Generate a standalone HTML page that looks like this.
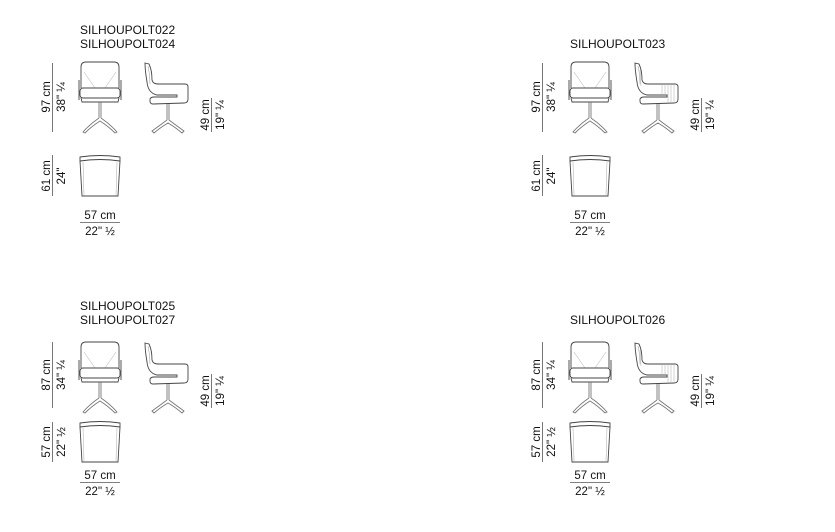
<!DOCTYPE html>
<html><head><meta charset="utf-8"><style>
html,body{margin:0;padding:0;background:#fff;}
svg{display:block;font-family:"Liberation Sans",Arial,sans-serif;}
text{fill:#111;}
</style></head><body>
<svg width="835" height="532" viewBox="0 0 835 532" xmlns="http://www.w3.org/2000/svg">
<defs>
<g id="front" fill="none" stroke="#444" stroke-width="0.9">
  <path d="M81,88 L81,67 Q81,62 86,62 L114,62 Q119,62 119,67 L119,88"/>
  <path d="M84,72 L95,88 M116,72 L105,88" stroke="#aaa" stroke-width="0.5"/>
  <path d="M79,80 L79,100 M121,80 L121,100"/>
  <rect x="80" y="88" width="40" height="10" rx="3"/>
  <path d="M81,98 L82,102 L118,102 L119,98"/>
  <path d="M99,102 L99,118 M101,102 L101,118" stroke="#777"/>
  <path d="M99,118 Q90,124 83,132 L85,133 Q92,126 100,121 Q108,126 115,133 L117,132 Q110,124 101,118" stroke="#777"/>
</g>
<g id="side" fill="none" stroke="#444" stroke-width="0.9">
  <path d="M145,63 L149,64 Q152,70 152,80 Q153,84 158,84 L185,84 Q188,84 188,87 L188,99 Q188,103 184,103 L153,104 Q150,104 150,101 L150,99 Q151,97 154,97 L177,97 L177,95 L157,95 Q148,93 147,82 Q145,70 145,63 Z"/>
  <path d="M148,66 Q150,74 150,84" stroke="#999" stroke-width="0.5"/>
  <path d="M167,104 L167,120 M169,104 L169,120" stroke="#777"/>
  <path d="M167,120 Q159,126 152,131 L154,133 Q161,127 168,123 Q175,127 182,133 L184,131 Q177,126 169,120" stroke="#777"/>
</g>
<g id="side2" fill="none" stroke="#444" stroke-width="0.9">
  <use href="#side"/>
  <path d="M172,85 L172,94 M175,85 L175,94 M178,85 L178,102 M181,85 L181,102 M184,85 L184,102 M150,70 L151,86" stroke="#aaa" stroke-width="0.5"/>
</g>
<g id="top" fill="none" stroke="#444" stroke-width="0.9">
  <path d="M80,157 Q100,154 120,157 L120,161 Q100,158 80,161 Z"/>
  <path d="M80,161 L82,196 L118,196 L120,161"/>
  <path d="M83,162 L84,195 M117,162 L116,195" stroke="#aaa" stroke-width="0.5"/>
</g>
</defs>

<g font-size="11.5">
<!-- Block 1 -->
<g>
<text x="80" y="34" font-size="12">SILHOUPOLT022</text>
<text x="80" y="48" font-size="12">SILHOUPOLT024</text>
<use href="#front"/><use href="#side"/><use href="#top"/>
<line x1="52.5" y1="63" x2="52.5" y2="132" stroke="#555" stroke-width="0.8"/>
<text transform="translate(50,97) rotate(-90)" text-anchor="middle">97 cm</text>
<text transform="translate(65,97) rotate(-90)" text-anchor="middle">38" ¼</text>
<line x1="211.5" y1="98" x2="211.5" y2="132" stroke="#555" stroke-width="0.8"/>
<text transform="translate(209,115) rotate(-90)" text-anchor="middle">49 cm</text>
<text transform="translate(224,115) rotate(-90)" text-anchor="middle">19" ¼</text>
<line x1="52.5" y1="155" x2="52.5" y2="196" stroke="#555" stroke-width="0.8"/>
<text transform="translate(50,176) rotate(-90)" text-anchor="middle">61 cm</text>
<text transform="translate(65,176) rotate(-90)" text-anchor="middle">24"</text>
<line x1="80" y1="222.5" x2="120" y2="222.5" stroke="#555" stroke-width="0.8"/>
<text x="100" y="219" text-anchor="middle">57 cm</text>
<text x="100" y="235" text-anchor="middle">22" ½</text>
</g>

<!-- Block 2 -->
<g transform="translate(490,0)">
<text x="80" y="48" font-size="12">SILHOUPOLT023</text>
<use href="#front"/><use href="#side2"/><use href="#top"/>
<line x1="52.5" y1="63" x2="52.5" y2="132" stroke="#555" stroke-width="0.8"/>
<text transform="translate(50,97) rotate(-90)" text-anchor="middle">97 cm</text>
<text transform="translate(65,97) rotate(-90)" text-anchor="middle">38" ¼</text>
<line x1="211.5" y1="98" x2="211.5" y2="132" stroke="#555" stroke-width="0.8"/>
<text transform="translate(209,115) rotate(-90)" text-anchor="middle">49 cm</text>
<text transform="translate(224,115) rotate(-90)" text-anchor="middle">19" ¼</text>
<line x1="52.5" y1="155" x2="52.5" y2="196" stroke="#555" stroke-width="0.8"/>
<text transform="translate(50,176) rotate(-90)" text-anchor="middle">61 cm</text>
<text transform="translate(65,176) rotate(-90)" text-anchor="middle">24"</text>
<line x1="80" y1="222.5" x2="120" y2="222.5" stroke="#555" stroke-width="0.8"/>
<text x="100" y="219" text-anchor="middle">57 cm</text>
<text x="100" y="235" text-anchor="middle">22" ½</text>
</g>

<!-- Block 3 -->
<g transform="translate(0,276)">
<text x="80" y="34" font-size="12">SILHOUPOLT025</text>
<text x="80" y="48" font-size="12">SILHOUPOLT027</text>
<use href="#front" transform="translate(0,4)"/><use href="#side" transform="translate(0,4)"/><use href="#top" transform="translate(0,-10)"/>
<line x1="52.5" y1="66" x2="52.5" y2="132" stroke="#555" stroke-width="0.8"/>
<text transform="translate(50,99) rotate(-90)" text-anchor="middle">87 cm</text>
<text transform="translate(65,99) rotate(-90)" text-anchor="middle">34" ¼</text>
<line x1="211.5" y1="98" x2="211.5" y2="132" stroke="#555" stroke-width="0.8"/>
<text transform="translate(209,115) rotate(-90)" text-anchor="middle">49 cm</text>
<text transform="translate(224,115) rotate(-90)" text-anchor="middle">19" ¼</text>
<line x1="52.5" y1="146" x2="52.5" y2="186" stroke="#555" stroke-width="0.8"/>
<text transform="translate(50,166) rotate(-90)" text-anchor="middle">57 cm</text>
<text transform="translate(65,166) rotate(-90)" text-anchor="middle">22" ½</text>
<line x1="80" y1="206.5" x2="120" y2="206.5" stroke="#555" stroke-width="0.8"/>
<text x="100" y="203" text-anchor="middle">57 cm</text>
<text x="100" y="219" text-anchor="middle">22" ½</text>
</g>

<!-- Block 4 -->
<g transform="translate(490,276)">
<text x="80" y="48" font-size="12">SILHOUPOLT026</text>
<use href="#front" transform="translate(0,4)"/><use href="#side2" transform="translate(0,4)"/><use href="#top" transform="translate(0,-10)"/>
<line x1="52.5" y1="66" x2="52.5" y2="132" stroke="#555" stroke-width="0.8"/>
<text transform="translate(50,99) rotate(-90)" text-anchor="middle">87 cm</text>
<text transform="translate(65,99) rotate(-90)" text-anchor="middle">34" ¼</text>
<line x1="211.5" y1="98" x2="211.5" y2="132" stroke="#555" stroke-width="0.8"/>
<text transform="translate(209,115) rotate(-90)" text-anchor="middle">49 cm</text>
<text transform="translate(224,115) rotate(-90)" text-anchor="middle">19" ¼</text>
<line x1="52.5" y1="146" x2="52.5" y2="186" stroke="#555" stroke-width="0.8"/>
<text transform="translate(50,166) rotate(-90)" text-anchor="middle">57 cm</text>
<text transform="translate(65,166) rotate(-90)" text-anchor="middle">22" ½</text>
<line x1="80" y1="206.5" x2="120" y2="206.5" stroke="#555" stroke-width="0.8"/>
<text x="100" y="203" text-anchor="middle">57 cm</text>
<text x="100" y="219" text-anchor="middle">22" ½</text>
</g>
</g>
</svg>
</body></html>
